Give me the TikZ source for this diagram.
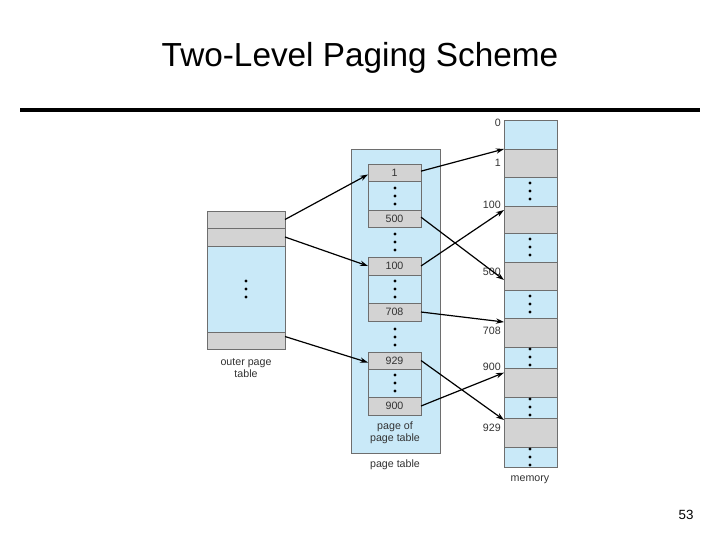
\documentclass[tikz,border=0pt]{standalone}
\usetikzlibrary{arrows.meta}
\usepackage{fontspec}
\setmainfont{Liberation Sans}
\definecolor{cb}{HTML}{C9E9F8}
\definecolor{cg}{HTML}{D3D3D3}
\definecolor{ln}{HTML}{6E6E6E}
\newcommand{\cell}[6]{%
  \pgfmathsetmacro{\cw}{(#4-#2)*0.75}\pgfmathsetmacro{\ch}{(#5-#3)*0.75}%
  \node[draw=ln, line width=0.5pt, fill=#6, inner sep=0pt, outer sep=0pt, minimum width=\cw pt, minimum height=\ch pt, font=\fontsize{8}{9}\selectfont] (#1) at ({(#2+#4)/2},{(#3+#5)/2}) {};}
\newcommand{\vdts}[2]{\foreach \k in {-1,0,1}{\fill (#1,{#2+\k*8}) circle (1.2pt);}}
\begin{document}
\begin{tikzpicture}[x=0.75pt,y=-0.75pt, arr/.style={-{Stealth[length=6pt,width=4pt]}, line width=0.9pt}, lbl/.style={font=\fontsize{8}{9}\selectfont, inner sep=0pt, text=black!80}]
\useasboundingbox (0,0) rectangle (720,540);
\fill[white] (0,0) rectangle (720,540);
\node (title) at (360,58) {\fontsize{25}{28}\selectfont Two-Level Paging Scheme};
\draw[line width=3pt] (20,110) -- (700,110);
\node (num) at (686,515) {\fontsize{10}{12}\selectfont 53};
% outer page table
\cell{o1}{207}{211}{285}{228}{cg}
\cell{o2}{207}{228}{285}{246}{cg}
\cell{o3}{207}{246}{285}{332}{cb}
\cell{o4}{207}{332}{285}{349}{cg}
\vdts{246}{289}
\node[lbl, align=center] (olab) at (246,368) {outer page\\table};
% page table
\cell{pt}{351}{149}{440}{453}{cb}
\cell{p1}{368}{164}{421}{181}{cg}\node[lbl] at (p1) {1};
\cell{p1b}{368}{181}{421}{210}{cb}\vdts{395}{196}
\cell{p500}{368}{210}{421}{227}{cg}\node[lbl] at (p500) {500};
\vdts{395}{242}
\cell{p100}{368}{257}{421}{275}{cg}\node[lbl] at (p100) {100};
\cell{p100b}{368}{275}{421}{303}{cb}\vdts{395}{289}
\cell{p708}{368}{303}{421}{321}{cg}\node[lbl] at (p708) {708};
\vdts{395}{337}
\cell{p929}{368}{352}{421}{369}{cg}\node[lbl] at (p929) {929};
\cell{p929b}{368}{369}{421}{397}{cb}\vdts{395}{383}
\cell{p900}{368}{397}{421}{415}{cg}\node[lbl] at (p900) {900};
\node[lbl, align=center] (poplab) at (395,433) {page of\\page table};
\node[lbl] (ptlab) at (395,465) {page table};
% memory
\cell{m0}{504}{120}{557}{149}{cb}
\cell{m1}{504}{149}{557}{177}{cg}
\cell{m2}{504}{177}{557}{206}{cb}\vdts{530}{191}
\cell{m100}{504}{206}{557}{233}{cg}
\cell{m4}{504}{233}{557}{262}{cb}\vdts{530}{247}
\cell{m500}{504}{262}{557}{290}{cg}
\cell{m6}{504}{290}{557}{318}{cb}\vdts{530}{304}
\cell{m708}{504}{318}{557}{347}{cg}
\cell{m8}{504}{347}{557}{368}{cb}\vdts{530}{357}
\cell{m900}{504}{368}{557}{397}{cg}
\cell{m10}{504}{397}{557}{418}{cb}\vdts{530}{407}
\cell{m929}{504}{418}{557}{447}{cg}
\cell{m12}{504}{447}{557}{467}{cb}\vdts{530}{457}
\node[lbl] (mlab) at (530,480) {memory};
\node[lbl, anchor=east] (l0) at (501,123) {0};
\node[lbl, anchor=east] (l1) at (501,163) {1};
\node[lbl, anchor=east] (l100) at (501,205) {100};
\node[lbl, anchor=east] (l500) at (501,272) {500};
\node[lbl, anchor=east] (l708) at (501,331) {708};
\node[lbl, anchor=east] (l900) at (501,367) {900};
\node[lbl, anchor=east] (l929) at (501,428) {929};
% arrows
\draw[arr] (o1.east) -- ([yshift=-1.5pt]p1.west);
\draw[arr] (o2.east) -- (p100.west);
\draw[arr] ([yshift=3pt]o4.east) -- ([yshift=-1.5pt]p929.west);
\draw[arr] ([yshift=1pt]p1.east) -- (m1.north west);
\draw[arr] ([yshift=1pt]p500.east) -- ([yshift=-3pt]m500.west);
\draw[arr] ([yshift=0pt]p100.east) -- ([yshift=-3pt]m100.north west);
\draw[arr] (p708.east) -- ([yshift=-3pt]m708.north west);
\draw[arr] ([yshift=0pt]p929.east) -- ([yshift=-1.5pt]m929.north west);
\draw[arr] (p900.east) -- ([yshift=-3.5pt]m900.north west);
\end{tikzpicture}
\end{document}
